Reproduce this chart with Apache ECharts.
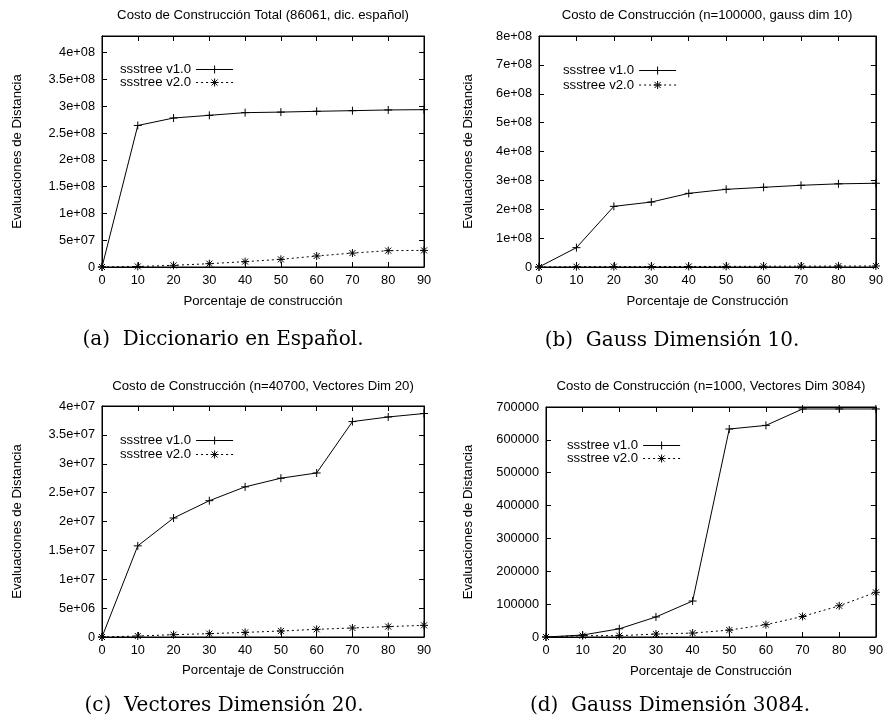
<!DOCTYPE html>
<html>
<head>
<meta charset="utf-8">
<script src="https://cdn.jsdelivr.net/npm/echarts@6/dist/echarts.min.js"></script>
<style>
  html, body { margin: 0; padding: 0; background: #fff; }
  #main { width: 886px; height: 721px; }
</style>
</head>
<body>
<div id="main"></div>
<script>
// porcentaje de construccion (eje x comun)
var pct = [0, 10, 20, 30, 40, 50, 60, 70, 80, 90];

// (a) diccionario español
var dicV1 = [0, 2.64e8, 2.78e8, 2.83e8, 2.88e8, 2.89e8, 2.905e8, 2.917e8, 2.93e8, 2.936e8];
var dicV2 = [0, 1.0e6, 3.1e6, 6.2e6, 1.0e7, 1.43e7, 2.05e7, 2.6e7, 3.05e7, 3.1e7];

// (b) gauss dim 10
var g10V1 = [0, 6.7e7, 2.10e8, 2.25e8, 2.55e8, 2.69e8, 2.76e8, 2.83e8, 2.88e8, 2.90e8];
var g10V2 = [0, 1.0e6, 1.2e6, 1.5e6, 1.8e6, 2.1e6, 2.5e6, 2.9e6, 3.2e6, 3.5e6];

// (c) vectores dim 20
var vecV1 = [0, 1.578e7, 2.06e7, 2.36e7, 2.6e7, 2.75e7, 2.84e7, 3.73e7, 3.81e7, 3.87e7];
var vecV2 = [0, 1.7e5, 4.0e5, 5.8e5, 8.0e5, 1.04e6, 1.33e6, 1.56e6, 1.8e6, 2.02e6];

// (d) gauss dim 3084
var g3kV1 = [0, 6000, 25000, 61000, 109500, 633000, 644000, 694000, 694000, 694000];
var g3kV2 = [0, 4000, 4000, 9000, 12000, 21000, 37500, 62500, 95000, 136000];

var titles = [
  'Costo de Construcción Total (86061, dic. español)',
  'Costo de Construcción (n=100000, gauss dim 10)',
  'Costo de Construcción (n=40700, Vectores Dim 20)',
  'Costo de Construcción (n=1000, Vectores Dim 3084)'
];
var xNames = ['Porcentaje de construcción', 'Porcentaje de Construcción',
              'Porcentaje de Construcción', 'Porcentaje de Construcción'];
var captions = ['(a)  Diccionario en Español.', '(b)  Gauss Dimensión 10.',
                '(c)  Vectores Dimensión 20.', '(d)  Gauss Dimensión 3084.'];
var legendNames = ['ssstree v1.0', 'ssstree v2.0'];

var FONT = 'Liberation Sans';
var FS = 13.2;      // titulos, leyenda, nombres de ejes
var FS_TICK = 12.8; // etiquetas de ticks

function sciLabel(v) {
  if (v === 0) return '0';
  var e = Math.floor(Math.log10(v) + 1e-9);
  var m = Math.round(v / Math.pow(10, e) * 100) / 100;
  return m + 'e+' + (e < 10 ? '0' + e : e);
}
function plainLabel(v) { return String(v); }

var plusSym = 'path://M0,4L8,4M4,0L4,8';
var starSym = 'path://M0,4L8,4M4,0L4,8M1,1L7,7M7,1L1,7';

var panels = [
  { grid: {left: 102, top: 36, width: 322, height: 231}, ymax: 4.31e8, yint: 5e7, fmt: sciLabel,
    v1: dicV1, v2: dicV2, titleX: 263, titleY: 9, yGap: 78, xGap: 28,
    legend: {left: 120, top: 63, gap: 0}, capX: 223, capY: 330 },
  { grid: {left: 539, top: 36, width: 337, height: 231}, ymax: 8e8, yint: 1e8, fmt: sciLabel,
    v1: g10V1, v2: g10V2, titleX: 707, titleY: 9, yGap: 64, xGap: 28,
    legend: {left: 563, top: 64, gap: 1.5}, capX: 672, capY: 331 },
  { grid: {left: 102, top: 406, width: 322, height: 231}, ymax: 4e7, yint: 5e6, fmt: sciLabel,
    v1: vecV1, v2: vecV2, titleX: 263, titleY: 380, yGap: 78, xGap: 27,
    legend: {left: 120, top: 434, gap: 1}, capX: 224, capY: 696 },
  { grid: {left: 546, top: 407, width: 330, height: 230}, ymax: 700000, yint: 100000, fmt: plainLabel,
    v1: g3kV1, v2: g3kV2, titleX: 711, titleY: 380, yGap: 71, xGap: 28,
    legend: {left: 567, top: 439, gap: 0}, capX: 670, capY: 696 }
];

var txt = { fontFamily: FONT, fontSize: FS, color: '#000' };
var tickTxt = { fontFamily: FONT, fontSize: FS_TICK, color: '#000' };
var option = {
  animation: false,
  backgroundColor: '#fff',
  title: [], legend: [], grid: [], xAxis: [], yAxis: [], series: []
};

panels.forEach(function (p, i) {
  option.grid.push(Object.assign({ show: true, borderColor: '#000', borderWidth: 1,
    backgroundColor: 'transparent', containLabel: false }, p.grid));

  option.title.push({
    text: titles[i], left: p.titleX, top: p.titleY, textAlign: 'center', padding: 0,
    textStyle: { fontFamily: FONT, fontSize: FS, fontWeight: 'normal', color: '#000' }
  });
  option.title.push({
    text: captions[i], left: p.capX, top: p.capY, textAlign: 'center', padding: 0,
    textStyle: { fontFamily: 'DejaVu Serif', fontSize: 20, fontWeight: 'normal', color: '#000' }
  });

  option.legend.push({
    data: legendNames, orient: 'vertical', align: 'right', left: p.legend.left, top: p.legend.top,
    padding: 0, itemGap: p.legend.gap, itemWidth: 37, itemHeight: 10, selectedMode: false,
    textStyle: txt,
    lineStyle: { width: 1 },
    itemStyle: { borderWidth: 1 }
  });

  var axisLine = { show: true, onZero: false, lineStyle: { color: '#000', width: 1 } };
  var tick = { show: true, inside: true, length: 5, lineStyle: { color: '#000' } };

  // eje x abajo y espejo arriba
  option.xAxis.push({
    gridIndex: i, type: 'value', min: 0, max: 90, interval: 10,
    name: xNames[i], nameLocation: 'middle', nameGap: p.xGap, nameTextStyle: txt,
    axisLine: axisLine, axisTick: tick, splitLine: { show: false },
    axisLabel: Object.assign({ margin: 7 }, tickTxt)
  });
  option.xAxis.push({
    gridIndex: i, type: 'value', position: 'top', min: 0, max: 90, interval: 10,
    axisLine: axisLine, axisTick: tick, splitLine: { show: false }, axisLabel: { show: false }
  });
  // eje y izquierda y espejo derecha
  option.yAxis.push({
    gridIndex: i, type: 'value', min: 0, max: p.ymax, interval: p.yint,
    name: 'Evaluaciones de Distancia', nameLocation: 'middle', nameGap: p.yGap, nameTextStyle: txt,
    axisLine: axisLine, axisTick: tick, splitLine: { show: false },
    axisLabel: Object.assign({ margin: 7, formatter: p.fmt, showMaxLabel: p.ymax % p.yint === 0 }, tickTxt)
  });
  option.yAxis.push({
    gridIndex: i, type: 'value', position: 'right', min: 0, max: p.ymax, interval: p.yint,
    axisLine: axisLine, axisTick: tick, splitLine: { show: false }, axisLabel: { show: false }
  });

  option.series.push({
    name: legendNames[0], type: 'line', xAxisIndex: 2 * i, yAxisIndex: 2 * i,
    data: pct.map(function (x, k) { return [x, p.v1[k]]; }),
    symbol: plusSym, symbolSize: 8, showSymbol: true, clip: false,
    lineStyle: { color: '#000', width: 1, type: 'solid' },
    itemStyle: { color: '#000', borderColor: '#000', borderWidth: 1 },
    emphasis: { disabled: true }
  });
  option.series.push({
    name: legendNames[1], type: 'line', xAxisIndex: 2 * i, yAxisIndex: 2 * i,
    data: pct.map(function (x, k) { return [x, p.v2[k]]; }),
    symbol: starSym, symbolSize: 8, showSymbol: true, clip: false,
    lineStyle: { color: '#000', width: 1, type: [2, 3] },
    itemStyle: { color: '#000', borderColor: '#000', borderWidth: 1 },
    emphasis: { disabled: true }
  });
});

var chart = echarts.init(document.getElementById('main'));
chart.setOption(option);
</script>
</body>
</html>
